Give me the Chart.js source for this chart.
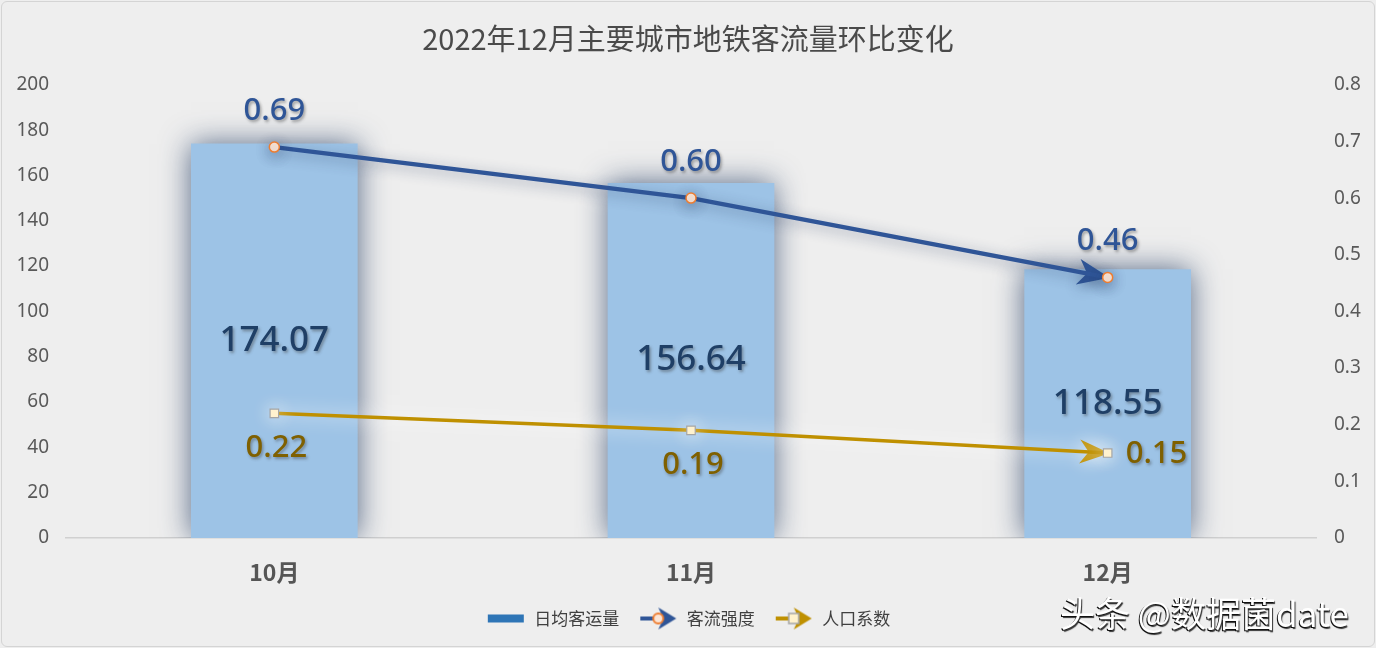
<!DOCTYPE html>
<html>
<head>
<meta charset="utf-8">
<script src="https://cdn.jsdelivr.net/npm/chart.js@4"></script>
<style>
  html, body { margin: 0; padding: 0; background: #eeeeee; }
  #wrap { position: relative; width: 1376px; height: 648px; }
  #frame { position: absolute; left: 1px; top: 1px; width: 1372px; height: 644px;
           border: 1px solid #d4d4d4; border-radius: 6px; background: #eeeeee; }
  canvas { position: absolute; left: 0; top: 0; }
  #mark { position: absolute; left: 1060px; top: 586px; font: 35px "Noto Sans CJK SC", sans-serif;
          color: #fff; text-shadow: -1px 1px 0 #111, 1px 2px 1px #333; }
</style>
</head>
<body>
<div id="wrap">
  <div id="frame"></div>
  <canvas id="chart" width="1376" height="648"></canvas>
  <div id="mark">头条 @数据菌date</div>
</div>
<script>
const months = ['10月', '11月', '12月'];
const dailyRidership = [174.07, 156.64, 118.55];   // 日均客运量
const flowIntensity = [0.69, 0.60, 0.46];          // 客流强度
const popCoef = [0.22, 0.19, 0.15];                // 人口系数

const NUM_FONT = '"Noto Sans", "Noto Sans CJK SC", sans-serif';
const CJK_FONT = '"Noto Sans CJK SC", sans-serif';

/* ---------- legend icons ---------- */
function legendIcon(kind) {
  const c = document.createElement('canvas');
  c.width = 40; c.height = 24;
  const g = c.getContext('2d');
  if (kind === 'bar') {
    g.fillStyle = '#2E75B6';
    g.fillRect(2, 8, 36, 8);
    return c;
  }
  const col = kind === 'blue' ? '#2F5597' : '#BF9000';
  g.strokeStyle = col; g.lineWidth = 4;
  g.beginPath(); g.moveTo(2, 12); g.lineTo(24, 12); g.stroke();
  g.fillStyle = col;
  g.beginPath(); g.moveTo(38, 12); g.lineTo(20, 1); g.lineTo(25, 12); g.lineTo(20, 23); g.closePath(); g.fill();
  if (kind === 'blue') {
    g.fillStyle = '#FBE5D6'; g.strokeStyle = '#ED7D31'; g.lineWidth = 2;
    g.beginPath(); g.arc(20, 12, 5, 0, Math.PI * 2); g.fill(); g.stroke();
  } else {
    g.fillStyle = '#FFF2CC'; g.strokeStyle = '#A5A5A5'; g.lineWidth = 1.5;
    g.fillRect(15, 7, 10, 10); g.strokeRect(15, 7, 10, 10);
  }
  return c;
}
const icons = [legendIcon('bar'), legendIcon('blue'), legendIcon('gold')];

/* ---------- plugins ---------- */
const glowPlugin = {
  id: 'glow',
  beforeDatasetDraw(chart, args) {
    const ctx = chart.ctx;
    ctx.save();
    if (args.index === 0) {
      ctx.shadowColor = 'rgba(35,60,100,0.75)';
      ctx.shadowBlur = 28;
    } else if (args.index === 1) {
      ctx.shadowColor = 'rgba(30,50,90,0.45)';
      ctx.shadowBlur = 14;
      ctx.shadowOffsetY = 3;
    } else {
      ctx.shadowColor = 'rgba(255,255,255,0.95)';
      ctx.shadowBlur = 18;
    }
    // arrow head at the end of the line series
    if (args.index > 0) {
      const pts = chart.getDatasetMeta(args.index).data;
      const a = pts[pts.length - 2], b = pts[pts.length - 1];
      const ang = Math.atan2(b.y - a.y, b.x - a.x);
      const len = args.index === 1 ? 30 : 28, half = args.index === 1 ? 13 : 12;
      const col = chart.data.datasets[args.index].borderColor;
      ctx.fillStyle = col;
      ctx.translate(b.x, b.y);
      ctx.rotate(ang);
      ctx.beginPath();
      ctx.moveTo(2, 0);
      ctx.lineTo(-len, -half);
      ctx.lineTo(-len + 9, 0);
      ctx.lineTo(-len, half);
      ctx.closePath();
      ctx.fill();
      ctx.setTransform(chart.currentDevicePixelRatio, 0, 0, chart.currentDevicePixelRatio, 0, 0);
    }
  },
  afterDatasetDraw(chart) {
    chart.ctx.restore();
  }
};

const labelPlugin = {
  id: 'valueLabels',
  afterDatasetsDraw(chart) {
    const ctx = chart.ctx;
    ctx.save();
    ctx.textBaseline = 'middle';
    ctx.shadowColor = 'rgba(60,60,60,0.45)';
    ctx.shadowBlur = 3;
    ctx.shadowOffsetX = 1.5;
    ctx.shadowOffsetY = 2;

    // bar values centered in bars
    chart.getDatasetMeta(0).data.forEach((bar, i) => {
      ctx.font = '500 35px ' + NUM_FONT;
      ctx.fillStyle = '#1F3F66';
      ctx.textAlign = 'center';
      ctx.fillText(dailyRidership[i].toFixed(2), bar.x, (bar.y + bar.base) / 2);
    });
    // 客流强度 above points
    chart.getDatasetMeta(1).data.forEach((p, i) => {
      ctx.font = '500 31px ' + NUM_FONT;
      ctx.fillStyle = '#2F5597';
      ctx.textAlign = 'center';
      ctx.fillText(flowIntensity[i].toFixed(2), p.x, p.y - 36);
    });
    // 人口系数 below, last one to the right
    chart.getDatasetMeta(2).data.forEach((p, i) => {
      ctx.font = '500 31px ' + NUM_FONT;
      ctx.fillStyle = '#7F6000';
      const last = i === popCoef.length - 1;
      ctx.textAlign = last ? 'left' : 'center';
      ctx.fillText(popCoef[i].toFixed(2), last ? p.x + 18 : p.x + 2, last ? p.y + 1 : p.y + 35);
    });
    ctx.restore();
  }
};

/* ---------- chart ---------- */
new Chart(document.getElementById('chart'), {
  data: {
    labels: months,
    datasets: [
      {
        type: 'bar',
        label: '日均客运量',
        data: dailyRidership,
        backgroundColor: '#9DC3E6',
        yAxisID: 'y',
        barPercentage: 0.4,
        categoryPercentage: 1,
        order: 3
      },
      {
        type: 'line',
        label: '客流强度',
        data: flowIntensity,
        borderColor: '#2F5597',
        borderWidth: 4.5,
        pointStyle: 'circle',
        pointRadius: 5,
        pointBorderWidth: 1.5,
        pointBorderColor: '#ED7D31',
        pointBackgroundColor: '#FBE5D6',
        yAxisID: 'y1',
        order: 2
      },
      {
        type: 'line',
        label: '人口系数',
        data: popCoef,
        borderColor: '#BF9000',
        borderWidth: 3.5,
        pointStyle: 'rect',
        pointRadius: 6,
        pointBorderWidth: 1.2,
        pointBorderColor: '#A5A5A5',
        pointBackgroundColor: '#FFF2CC',
        yAxisID: 'y1',
        order: 1
      }
    ]
  },
  options: {
    responsive: false,
    animation: false,
    layout: { padding: { left: 0, right: 0, top: 0, bottom: 11 } },
    plugins: {
      title: {
        display: true,
        text: '2022年12月主要城市地铁客流量环比变化',
        color: '#4a4a4a',
        font: { family: CJK_FONT, size: 29, weight: 'normal', lineHeight: 1.2 },
        padding: { top: 22, bottom: 28 }
      },
      legend: {
        position: 'bottom',
        labels: {
          usePointStyle: true,
          pointStyleWidth: 40,
          color: '#404040',
          font: { family: CJK_FONT, size: 17 },
          padding: 19,
          generateLabels(chart) {
            return chart.data.datasets.map((ds, i) => ({
              text: ds.label,
              pointStyle: icons[i],
              fillStyle: 'transparent',
              strokeStyle: 'transparent',
              lineWidth: 0,
              fontColor: '#404040',
              datasetIndex: i
            }));
          }
        }
      },
      tooltip: { enabled: false }
    },
    scales: {
      x: {
        grid: { display: false, drawTicks: false },
        border: { display: true, color: '#d0d0d0', width: 1.5 },
        ticks: {
          color: '#555555',
          padding: 20,
          font: { family: CJK_FONT, size: 23, weight: 'bold' }
        },
        afterFit(scale) { scale.height = 53; }
      },
      y: {
        position: 'left',
        min: 0, max: 200,
        grid: { display: false, drawTicks: false },
        border: { display: false },
        ticks: {
          stepSize: 20,
          color: '#595959',
          padding: 17,
          font: { family: NUM_FONT, size: 19 }
        },
        afterFit(scale) { scale.width = 66; }
      },
      y1: {
        position: 'right',
        min: 0, max: 0.8,
        grid: { display: false, drawTicks: false },
        border: { display: false },
        ticks: {
          stepSize: 0.1,
          color: '#595959',
          padding: 18,
          font: { family: NUM_FONT, size: 19 },
          callback: v => (v === 0 ? '0' : v.toFixed(1))
        },
        afterFit(scale) { scale.width = 60; }
      }
    }
  },
  plugins: [glowPlugin, labelPlugin]
});
</script>
</body>
</html>
